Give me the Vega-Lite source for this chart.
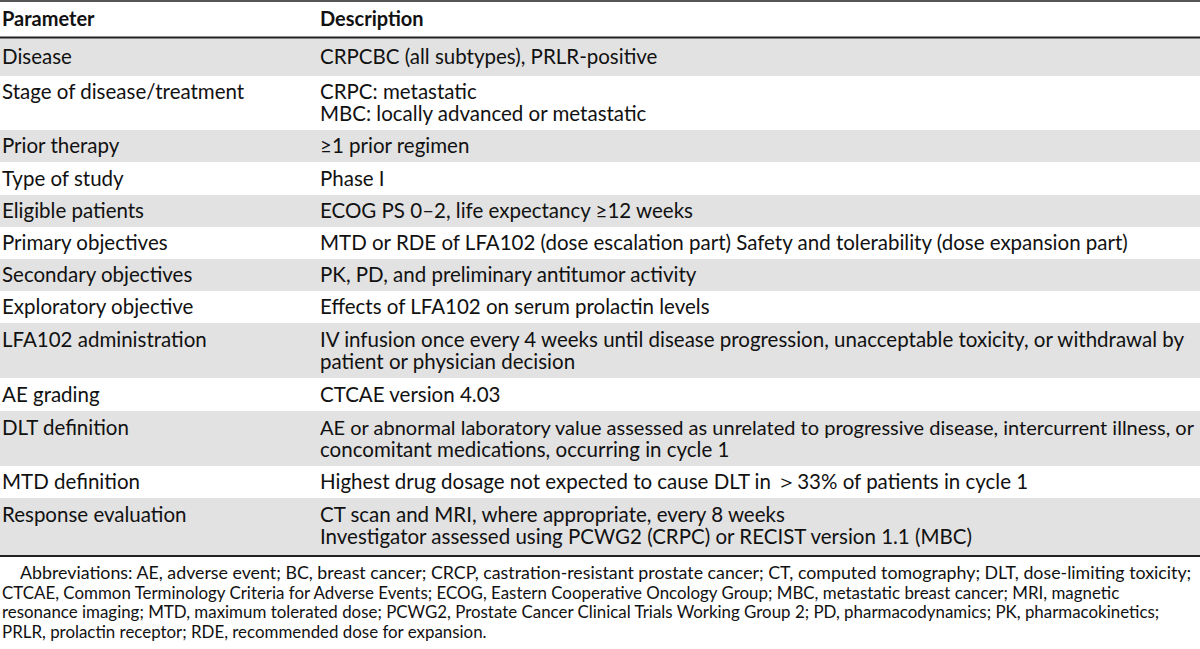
{
  "$schema": "https://vega.github.io/schema/vega-lite/v6.json",
  "width": 1200,
  "height": 649,
  "padding": 0,
  "autosize": {"type": "none"},
  "background": "white",
  "config": {"view": {"stroke": null}, "text": {"font": "Lato", "color": "#111111"}},
  "datasets": {
    "bands": [
      {"top": 38, "bottom": 76},
      {"top": 130, "bottom": 162},
      {"top": 195, "bottom": 227},
      {"top": 259, "bottom": 291},
      {"top": 323, "bottom": 378},
      {"top": 411, "bottom": 466},
      {"top": 498, "bottom": 555}
    ],
    "thinRules": [{"pos": 1}],
    "thickRules": [{"pos": 37.5}, {"pos": 556}],
    "header": [
      {"column": "Parameter", "pos": 26, "text": "Parameter"},
      {"column": "Description", "pos": 26, "text": "Description"}
    ],
    "body": [
      {"column": "Parameter", "pos": 64, "text": "Disease"},
      {"column": "Description", "pos": 64, "text": "CRPCBC (all subtypes), PRLR-positive"},
      {"column": "Parameter", "pos": 99, "text": "Stage of disease/treatment"},
      {"column": "Description", "pos": 99, "text": "CRPC: metastatic"},
      {"column": "Description", "pos": 121, "text": "MBC: locally advanced or metastatic"},
      {"column": "Parameter", "pos": 153, "text": "Prior therapy"},
      {"column": "Description", "pos": 153, "text": "≥1 prior regimen"},
      {"column": "Parameter", "pos": 185.5, "text": "Type of study"},
      {"column": "Description", "pos": 185.5, "text": "Phase I"},
      {"column": "Parameter", "pos": 218, "text": "Eligible patients"},
      {"column": "Description", "pos": 218, "text": "ECOG PS 0–2, life expectancy ≥12 weeks"},
      {"column": "Parameter", "pos": 250, "text": "Primary objectives"},
      {"column": "Description", "pos": 250, "text": "MTD or RDE of LFA102 (dose escalation part) Safety and tolerability (dose expansion part)"},
      {"column": "Parameter", "pos": 282, "text": "Secondary objectives"},
      {"column": "Description", "pos": 282, "text": "PK, PD, and preliminary antitumor activity"},
      {"column": "Parameter", "pos": 314, "text": "Exploratory objective"},
      {"column": "Description", "pos": 314, "text": "Effects of LFA102 on serum prolactin levels"},
      {"column": "Parameter", "pos": 346.5, "text": "LFA102 administration"},
      {"column": "Description", "pos": 346.5, "text": "IV infusion once every 4 weeks until disease progression, unacceptable toxicity, or withdrawal by"},
      {"column": "Description", "pos": 368.5, "text": "patient or physician decision"},
      {"column": "Parameter", "pos": 401.5, "text": "AE grading"},
      {"column": "Description", "pos": 401.5, "text": "CTCAE version 4.03"},
      {"column": "Parameter", "pos": 434.5, "text": "DLT definition"},
      {"column": "Description", "pos": 456.5, "text": "concomitant medications, occurring in cycle 1"},
      {"column": "Parameter", "pos": 489, "text": "MTD definition"},
      {"column": "Description", "pos": 489, "text": "Highest drug dosage not expected to cause DLT in ＞33% of patients in cycle 1"},
      {"column": "Parameter", "pos": 521.5, "text": "Response evaluation"},
      {"column": "Description", "pos": 521.5, "text": "CT scan and MRI, where appropriate, every 8 weeks"},
      {"column": "Description", "pos": 543.5, "text": "Investigator assessed using PCWG2 (CRPC) or RECIST version 1.1 (MBC)"}
    ],
    "bodyTight": [
      {"column": "Description", "pos": 434.5, "text": "AE or abnormal laboratory value assessed as unrelated to progressive disease, intercurrent illness, or"}
    ],
    "noteFirst": [
      {"column": "Parameter", "pos": 579, "text": "Abbreviations: AE, adverse event; BC, breast cancer; CRCP, castration-resistant prostate cancer; CT, computed tomography; DLT, dose-limiting toxicity;"}
    ],
    "noteRest": [
      {"column": "Parameter", "pos": 598.5, "text": "CTCAE, Common Terminology Criteria for Adverse Events; ECOG, Eastern Cooperative Oncology Group; MBC, metastatic breast cancer; MRI, magnetic"},
      {"column": "Parameter", "pos": 618, "text": "resonance imaging; MTD, maximum tolerated dose; PCWG2, Prostate Cancer Clinical Trials Working Group 2; PD, pharmacodynamics; PK, pharmacokinetics;"},
      {"column": "Parameter", "pos": 637.5, "text": "PRLR, prolactin receptor; RDE, recommended dose for expansion."}
    ]
  },
  "resolve": {"scale": {"x": "shared", "y": "shared"}},
  "layer": [
    {
      "data": {"name": "bands"},
      "mark": {"type": "rect", "color": "#e2e2e2"},
      "encoding": {
        "y": {"field": "top", "type": "quantitative", "scale": {"domain": [0, 649], "reverse": true, "nice": false, "zero": false}, "axis": null},
        "y2": {"field": "bottom"}
      }
    },
    {
      "data": {"name": "thinRules"},
      "mark": {"type": "rule", "color": "#555555", "strokeWidth": 2},
      "encoding": {"y": {"field": "pos", "type": "quantitative"}}
    },
    {
      "data": {"name": "thickRules"},
      "mark": {"type": "rule", "color": "#222222", "strokeWidth": 2},
      "encoding": {"y": {"field": "pos", "type": "quantitative"}}
    },
    {
      "data": {"name": "header"},
      "mark": {"type": "text", "align": "left", "baseline": "alphabetic", "fontSize": 20, "fontWeight": "bold"},
      "encoding": {
        "x": {"field": "column", "type": "nominal", "scale": {"type": "point", "domain": ["Parameter", "Description"], "range": [2, 320], "padding": 0}, "axis": null},
        "y": {"field": "pos", "type": "quantitative"},
        "text": {"field": "text"}
      }
    },
    {
      "data": {"name": "body"},
      "mark": {"type": "text", "align": "left", "baseline": "alphabetic", "fontSize": 20.5},
      "encoding": {
        "x": {"field": "column", "type": "nominal"},
        "y": {"field": "pos", "type": "quantitative"},
        "text": {"field": "text"}
      }
    },
    {
      "data": {"name": "bodyTight"},
      "mark": {"type": "text", "align": "left", "baseline": "alphabetic", "fontSize": 20},
      "encoding": {
        "x": {"field": "column", "type": "nominal"},
        "y": {"field": "pos", "type": "quantitative"},
        "text": {"field": "text"}
      }
    },
    {
      "data": {"name": "noteFirst"},
      "mark": {"type": "text", "align": "left", "baseline": "alphabetic", "fontSize": 17.8, "dx": 18},
      "encoding": {
        "x": {"field": "column", "type": "nominal"},
        "y": {"field": "pos", "type": "quantitative"},
        "text": {"field": "text"}
      }
    },
    {
      "data": {"name": "noteRest"},
      "mark": {"type": "text", "align": "left", "baseline": "alphabetic", "fontSize": 16.9},
      "encoding": {
        "x": {"field": "column", "type": "nominal"},
        "y": {"field": "pos", "type": "quantitative"},
        "text": {"field": "text"}
      }
    }
  ]
}
